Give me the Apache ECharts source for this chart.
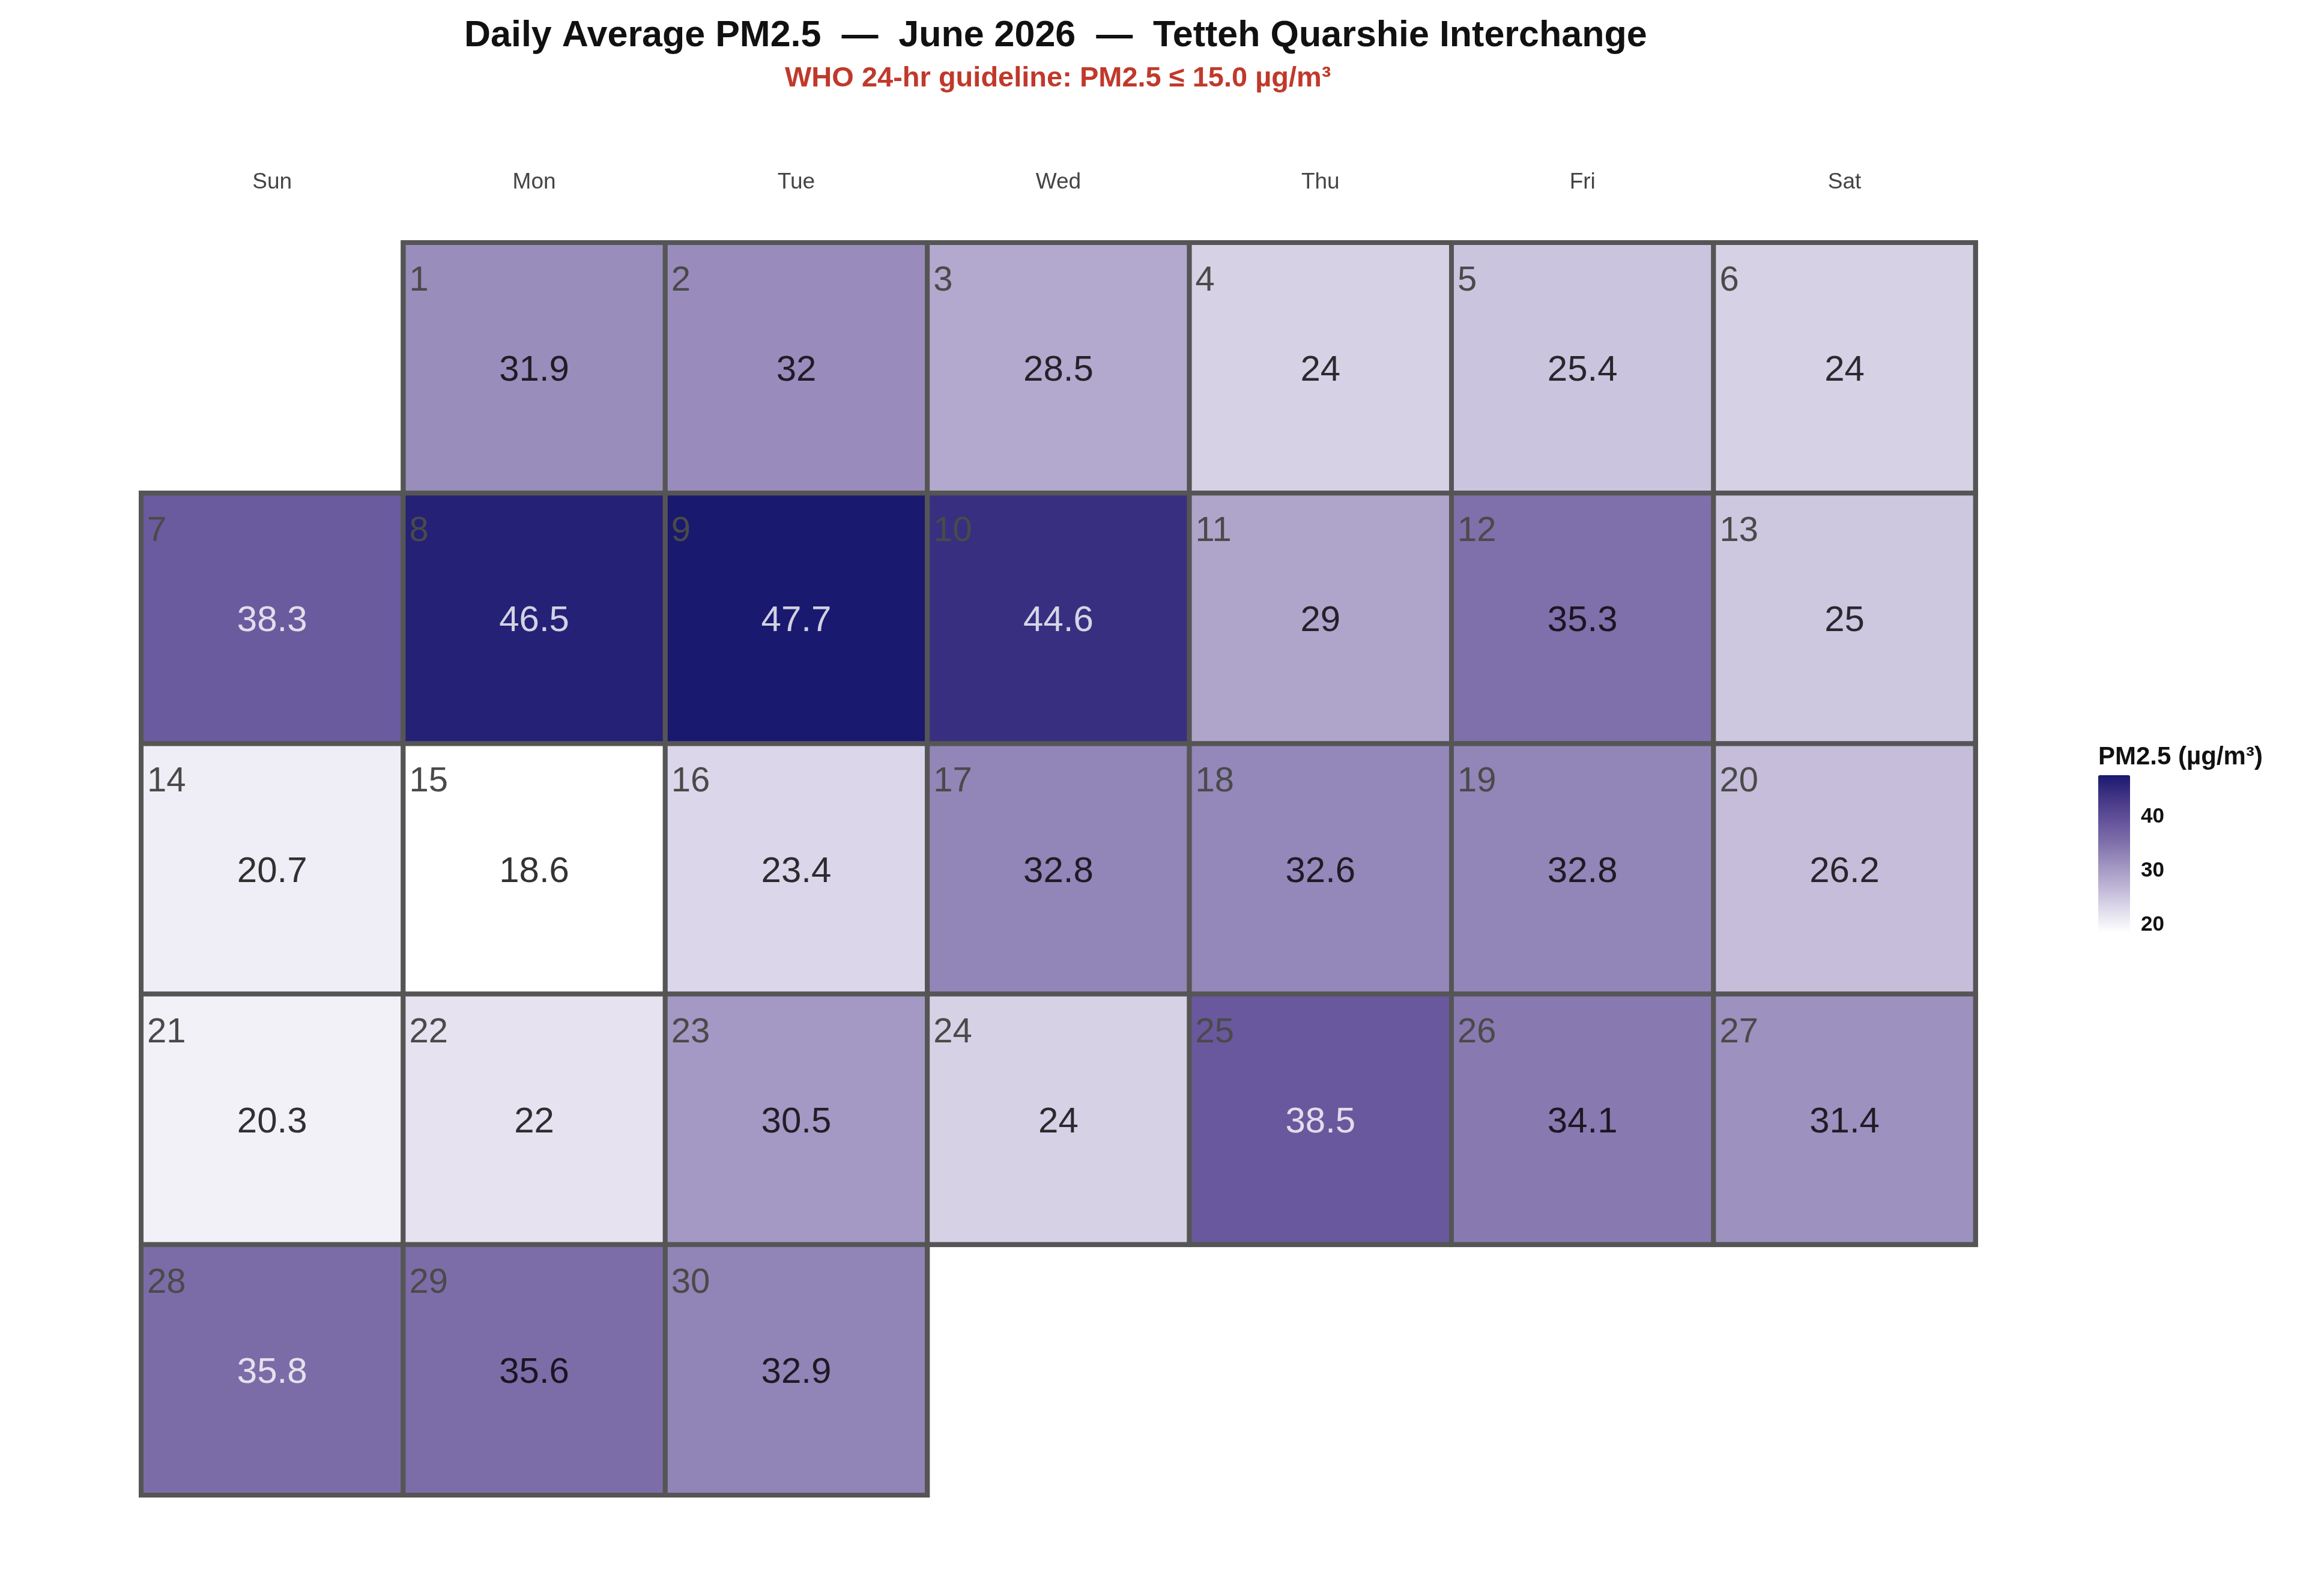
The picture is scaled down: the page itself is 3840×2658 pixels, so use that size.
<!DOCTYPE html>
<html>
<head>
<meta charset="utf-8">
<script src="https://cdn.jsdelivr.net/npm/echarts@6/dist/echarts.min.js"></script>
<style>
html,body{margin:0;padding:0;background:#fff;}
#main{width:3840px;height:2658px;}
</style>
</head>
<body>
<div id="main"></div>
<script>
// ---- data ----
const monthStr = '2026-06';
const dayNumbers = [1,2,3,4,5,6,7,8,9,10,11,12,13,14,15,16,17,18,19,20,21,22,23,24,25,26,27,28,29,30];
const pm25 = [31.9,32,28.5,24,25.4,24,38.3,46.5,47.7,44.6,29,35.3,25,20.7,18.6,23.4,32.8,32.6,32.8,26.2,20.3,22,30.5,24,38.5,34.1,31.4,35.8,35.6,32.9];
const weekdayNames = ['Sun','Mon','Tue','Wed','Thu','Fri','Sat'];
const colorStops = ['#ffffff','#e0dcec','#bfb6d6','#a094c1','#7f70aa','#63529a','#433685','#191970'];
const scaleMin = 18.6, scaleMax = 47.7;
const titleText = 'Daily Average PM2.5  \u2014  June 2026  \u2014  Tetteh Quarshie Interchange';
const subText = 'WHO 24-hr guideline: PM2.5 \u2264 15.0 \u00b5g/m\u00b3';
const legendTitle = 'PM2.5 (\u00b5g/m\u00b3)';

const FONT = '"Liberation Sans", Arial, "DejaVu Sans", sans-serif';
const dates = dayNumbers.map(d => monthStr + '-' + String(d).padStart(2,'0'));
const heatData = dates.map((dt,i) => [dt, pm25[i], dayNumbers[i]]);

const chart = echarts.init(document.getElementById('main'), null, {renderer:'canvas'});
const option = {
  backgroundColor: '#ffffff',
  textStyle: {fontFamily: FONT},
  title: [
    {text: titleText, left: 773, top: 30, padding: 0,
     textStyle: {fontFamily: FONT, fontSize: 61, fontWeight: 'bold', color: '#111111'}},
    {text: subText, left: 1307, top: 108, padding: 0,
     textStyle: {fontFamily: FONT, fontSize: 47, fontWeight: 'bold', color: '#c0392b'}},
    {text: legendTitle, left: 3494, top: 1240, padding: 0,
     textStyle: {fontFamily: FONT, fontSize: 42, fontWeight: 'bold', color: '#111111'}}
  ],
  calendar: {
    range: monthStr,
    orient: 'vertical',
    left: 235, top: 404,
    cellSize: [436.4, 417.2],
    splitLine: {show: true, lineStyle: {color: '#555555', width: 8}},
    itemStyle: {color: '#ffffff', borderColor: '#555555', borderWidth: 0},
    dayLabel: {show: true, firstDay: 0, nameMap: weekdayNames, position: 'start', margin: 82,
      fontFamily: FONT, fontSize: 37, color: '#444444'},
    monthLabel: {show: false},
    yearLabel: {show: false}
  },
  visualMap: {
    type: 'continuous',
    min: scaleMin, max: scaleMax,
    seriesIndex: 0,
    dimension: 1,
    calculable: false,
    left: 3494, top: 1291,
    itemWidth: 53, itemHeight: 262,
    padding: 0,
    inRange: {color: colorStops}
  },
  grid: {left: 3494, top: 1291, width: 53, height: 262, show: false},
  xAxis: {type: 'value', show: false, min: 0, max: 1},
  yAxis: [
    {type: 'value', min: scaleMin, max: scaleMax, splitNumber: 3, position: 'right',
     axisLine: {show: false}, splitLine: {show: false},
     axisTick: {show: true, inside: true, length: 11, lineStyle: {color: '#ffffff', width: 2}},
     axisLabel: {show: true, showMinLabel: false, showMaxLabel: false, margin: 18,
       fontFamily: FONT, fontSize: 35, fontWeight: 'bold', color: '#111111'}},
    {type: 'value', min: scaleMin, max: scaleMax, splitNumber: 3, position: 'left',
     axisLine: {show: false}, splitLine: {show: false},
     axisTick: {show: true, inside: true, length: 11, lineStyle: {color: '#ffffff', width: 2}},
     axisLabel: {show: false}}
  ],
  series: [
    {
      type: 'heatmap',
      coordinateSystem: 'calendar',
      data: heatData,
      itemStyle: {borderColor: '#555555', borderWidth: 8},
      label: {
        show: true,
        position: [14, 68],
        align: 'left', verticalAlign: 'middle',
        formatter: p => String(p.data[2]),
        fontFamily: FONT, fontSize: 58, color: '#4a4a4a'
      },
      emphasis: {disabled: true}
    },
    {
      type: 'scatter',
      coordinateSystem: 'calendar',
      data: heatData,
      symbolSize: 1,
      itemStyle: {color: 'rgba(0,0,0,0)'},
      label: {
        show: true,
        position: 'inside',
        offset: [0, 5],
        formatter: p => (p.data[1] > 35.7 ? '{w|' : '{k|') + String(p.data[1]) + '}',
        rich: {
          w: {fontFamily: FONT, fontSize: 60, color: '#ffffff'},
          k: {fontFamily: FONT, fontSize: 60, color: '#000000'}
        }
      },
      emphasis: {disabled: true},
      silent: true,
      z: 5
    }
  ]
};
chart.setOption(option);
</script>
</body>
</html>
